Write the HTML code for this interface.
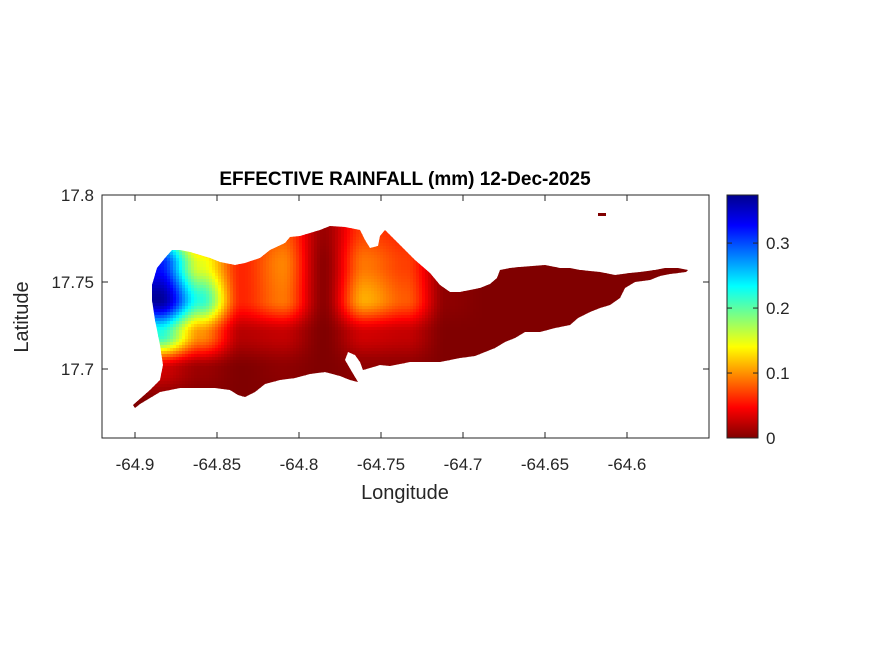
<!DOCTYPE html>
<html><head><meta charset="utf-8"><style>
body{margin:0;background:#fff;}
svg text{font-family:"Liberation Sans",sans-serif;fill:#262626;}
</style></head><body>
<svg id="c" width="875" height="656" xmlns="http://www.w3.org/2000/svg">
<defs>
<clipPath id="isl"><path id="islpath" d="M133,405 L150,390 L160,380 L163,365 L160,345 L155,320 L152,300 L152,285 L157,268 L165,258 L172,250 L180,250 L190,252 L200,255 L210,258 L220,262 L235,265 L245,263 L260,258 L270,250 L285,243 L290,237 L300,236 L320,230 L330,226 L345,227 L360,230 L365,240 L370,248 L378,246 L380,236 L385,230 L390,235 L395,240 L405,250 L415,260 L430,273 L440,285 L450,292 L460,292 L470,290 L480,288 L490,284 L497,278 L500,270 L510,268 L520,267 L545,265 L560,268 L570,268 L580,270 L600,272 L615,275 L630,273 L640,272 L655,270 L665,268 L678,268 L688,270 L686,272 L670,274 L660,276 L650,280 L635,282 L625,288 L620,298 L610,305 L600,308 L590,312 L578,318 L570,325 L555,328 L540,332 L525,332 L515,338 L505,342 L495,348 L485,352 L475,356 L460,358 L450,360 L440,362 L425,362 L410,362 L400,364 L390,366 L380,365 L370,368 L363,370 L360,362 L355,355 L348,352 L345,360 L352,372 L358,382 L350,380 L340,376 L325,372 L310,374 L295,378 L280,380 L265,384 L255,392 L245,397 L238,395 L230,390 L215,388 L200,388 L180,388 L170,390 L160,392 L150,398 L140,404 L135,408 Z"/></clipPath>
<linearGradient id="cbg" x1="0" y1="1" x2="0" y2="0">
<stop offset="0" stop-color="#800000"/><stop offset="0.125" stop-color="#FF0000"/><stop offset="0.375" stop-color="#FFFF00"/><stop offset="0.625" stop-color="#00FFFF"/><stop offset="0.875" stop-color="#0000FF"/><stop offset="1" stop-color="#00008F"/>
</linearGradient>
</defs>
<text x="405" y="185" text-anchor="middle" font-size="19" font-weight="bold" style="fill:#000">EFFECTIVE RAINFALL (mm) 12-Dec-2025</text>
<g clip-path="url(#isl)"><g id="heat"></g></g>
<rect x="598" y="213" width="8" height="3" fill="#800000"/>
<rect x="102" y="195" width="607" height="243" fill="none" stroke="#262626" stroke-width="1"/>
<g id="axes"></g>
<text x="405" y="499" text-anchor="middle" font-size="20">Longitude</text>
<text transform="translate(28,317) rotate(-90)" text-anchor="middle" font-size="20">Latitude</text>
<rect x="727" y="195" width="31" height="243" fill="url(#cbg)" stroke="#262626" stroke-width="1"/>
<g id="cbax"></g>
</svg>
<script>
const lons=[-64.91,-64.885,-64.86,-64.835,-64.81,-64.785,-64.76,-64.735,-64.71,-64.685,-64.66,-64.635,-64.61,-64.585,-64.56];
const lats=[17.78,17.76,17.74,17.72,17.70,17.68];
const rain=[
[0.28,0.20,0.07,0.05,0.08,0.01,0.07,0.06,0,0,0,0,0,0,0],
[0.34,0.32,0.15,0.06,0.095,0.005,0.09,0.07,0.005,0,0,0,0,0,0],
[0.36,0.37,0.22,0.06,0.09,0.005,0.11,0.08,0.005,0,0,0,0,0,0],
[0.16,0.22,0.10,0.02,0.025,0,0.03,0.025,0,0,0,0,0,0,0],
[0.02,0.03,0.01,0,0.005,0,0.005,0.005,0,0,0,0,0,0,0],
[0,0,0,0,0,0,0,0,0,0,0,0,0,0,0]];
const xTicks=[-64.9,-64.85,-64.8,-64.75,-64.7,-64.65,-64.6];
const yTicks=[17.7,17.75,17.8];
const cTicks=[0,0.1,0.2,0.3];
const cMax=0.374;
const NS="http://www.w3.org/2000/svg";
const X=v=>135+(v+64.9)*1640;
const Y=v=>282-(v-17.75)*1740;
const CY=v=>438-v/cMax*243;
function jet(t){t=1-Math.max(0,Math.min(1,t));
 const s=[[0,[0,0,143]],[0.125,[0,0,255]],[0.375,[0,255,255]],[0.625,[255,255,0]],[0.875,[255,0,0]],[1,[128,0,0]]];
 for(let i=1;i<s.length;i++){if(t<=s[i][0]){const a=s[i-1],b=s[i],f=(t-a[0])/(b[0]-a[0]);
 return 'rgb('+a[1].map((c,k)=>Math.round(c+(b[1][k]-c)*f)).join(',')+')';}}return 'rgb(128,0,0)';}
function field(px,py){
 let fc=(px-X(lons[0]))/(X(lons[1])-X(lons[0])), fr=(py-Y(lats[0]))/(Y(lats[1])-Y(lats[0]));
 fc=Math.max(0,Math.min(lons.length-1.001,fc)); fr=Math.max(0,Math.min(lats.length-1.001,fr));
 const c=Math.floor(fc),r=Math.floor(fr);let u=fc-c,v=fr-r;
 u=u*u*(3-2*u);v=v*v*(3-2*v);
 return rain[r][c]*(1-u)*(1-v)+rain[r][c+1]*u*(1-v)+rain[r+1][c]*(1-u)*v+rain[r+1][c+1]*u*v;}
const heat=document.getElementById('heat');
const S=3;
for(let py=222;py<412;py+=S)for(let px=128;px<692;px+=S){
 const e=document.createElementNS(NS,'rect');
 e.setAttribute('x',px);e.setAttribute('y',py);e.setAttribute('width',S+0.5);e.setAttribute('height',S+0.5);
 e.setAttribute('fill',jet(field(px+S/2,py+S/2)/cMax));
 
 
 heat.appendChild(e);}
const ax=document.getElementById('axes');
function line(p,x1,y1,x2,y2){const l=document.createElementNS(NS,'line');l.setAttribute('x1',x1);l.setAttribute('y1',y1);l.setAttribute('x2',x2);l.setAttribute('y2',y2);l.setAttribute('stroke','#262626');p.appendChild(l);return l;}
function txt(p,x,y,s,a){const t=document.createElementNS(NS,'text');t.setAttribute('x',x);t.setAttribute('y',y);t.setAttribute('font-size','17');t.setAttribute('text-anchor',a);t.textContent=s;p.appendChild(t);return t;}
xTicks.forEach(v=>{const x=X(v);line(ax,x,438,x,432);line(ax,x,195,x,201);
 const t=txt(ax,x,470,String(v),'middle');
 
 });
yTicks.forEach(v=>{const y=Y(v);line(ax,102,y,108,y);line(ax,709,y,703,y);
 const t=txt(ax,94,y+6,String(v),'end');
 
 });
const cb=document.getElementById('cbax');
cTicks.forEach(v=>{const y=CY(v);line(cb,758,y,753,y);line(cb,727,y,732,y);
 const t=txt(cb,766,y+6,String(v),'start');
 
 });
</script>
</body></html>
